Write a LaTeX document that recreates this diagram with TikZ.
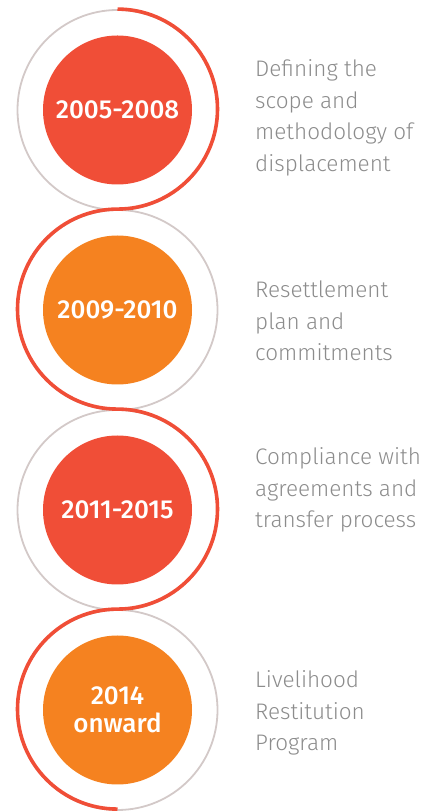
\documentclass[tikz,border=0pt]{standalone}
\usepackage{fontspec}
\setmainfont{Fira Sans}
\newfontfamily\lightfont{Fira Sans Light}
\newfontfamily\yearfont{Fira Sans Medium}
\definecolor{stepred}{HTML}{F04E37}
\definecolor{steporange}{HTML}{F58220}
\definecolor{ringgray}{HTML}{D3C9C8}
\definecolor{descgray}{HTML}{8C8C8C}
\tikzset{
  ring/.style={circle,draw=ringgray,line width=1.8pt,minimum size=200pt,inner sep=0pt},
  yearbox/.style={circle,minimum size=149pt,inner sep=0pt,text=white,align=center,
    font=\yearfont\fontsize{26}{28}\selectfont},
  desc/.style={anchor=west,align=left,text=descgray,inner sep=0pt,
    font=\lightfont\fontsize{22.5}{31.5}\selectfont},
  trail/.style={draw=stepred,line width=3.6pt}
}
\begin{document}
\begin{tikzpicture}[x=1pt,y=1pt]
    \useasboundingbox (0,0) rectangle (436,812);
    \node[ring] (r1) at (117.5,702) {};
    \node[ring] (r2) at (117.5,502) {};
    \node[ring] (r3) at (117.5,302) {};
    \node[ring] (r4) at (117.5,102) {};
    \draw[trail] (r1.north) arc[start angle=90,end angle=-90,radius=100]
                            arc[start angle=90,end angle=270,radius=100]
                            arc[start angle=90,end angle=-90,radius=100]
                            arc[start angle=90,end angle=270,radius=100];
    \node[yearbox,fill=stepred]    (y1) at (r1) {2005-2008};
    \node[yearbox,fill=steporange] (y2) at (r2) {2009-2010};
    \node[yearbox,fill=stepred]    (y3) at (r3) {2011-2015};
    \node[yearbox,fill=steporange] (y4) at (r4) {2014\\onward};
    \node[desc] (d1) at (255,694) {Defining the\\scope and\\methodology of\\displacement};
    \node[desc] (d2) at (255,491) {Resettlement\\plan and\\commitments};
    \node[desc] (d3) at (255,322) {Compliance with\\agreements and\\transfer process};
    \node[desc] (d4) at (255,99) {Livelihood\\Restitution\\Program};
  \end{tikzpicture}
\end{document}
